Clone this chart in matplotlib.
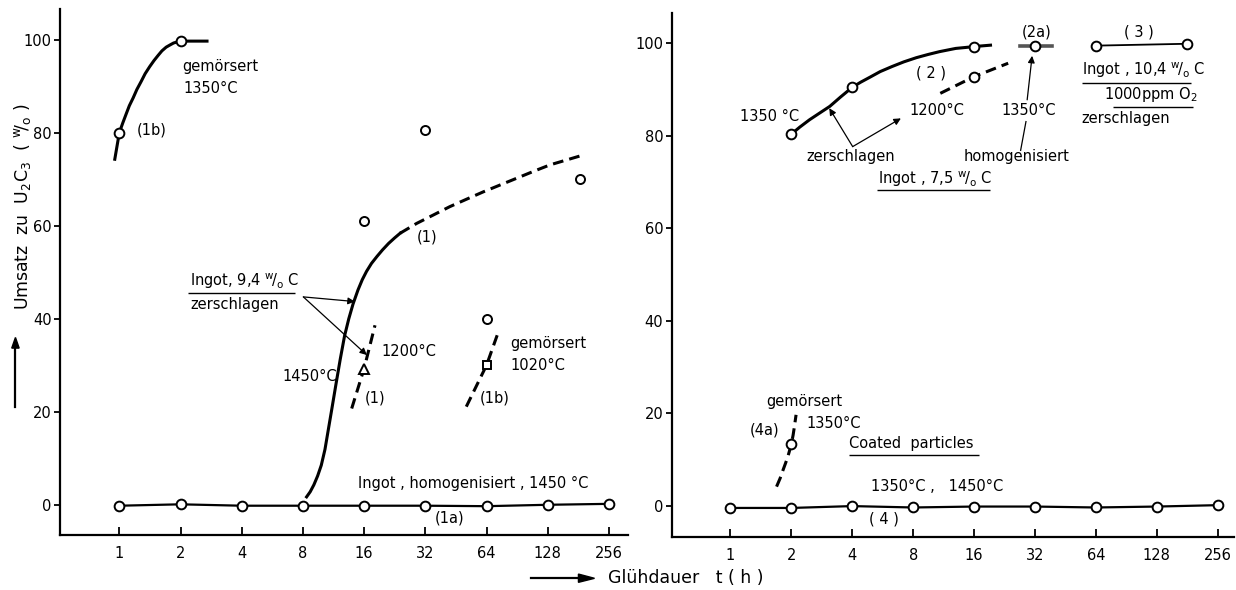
import matplotlib.pyplot as plt

plt.rcParams['font.family'] = ['DejaVu Sans']
plt.rcParams['mathtext.default'] = 'regular'

hours = [1, 2, 4, 8, 16, 32, 64, 128, 256]

# Ingot, homogenisiert, 1450 C (1a) and coated particles (4)
ingot_1a = [-0.2, 0.1, -0.2, -0.2, -0.2, -0.2, -0.3, 0.0, 0.2]
coated_4 = [-0.4, -0.4, 0.0, -0.3, -0.1, -0.1, -0.3, -0.1, 0.2]

# (1b) gemoersert 1350 C
mortar_1b_t = [0.95, 1.0, 1.04, 1.08, 1.12, 1.17, 1.22, 1.28, 1.34, 1.41, 1.48, 1.55,
               1.62, 1.7, 1.78, 1.85, 1.92, 2.0, 2.7]
mortar_1b_u = [74.3, 80, 82.1, 84, 85.8, 87.5, 89.3, 91, 92.7, 94.2, 95.5, 96.6,
               97.6, 98.4, 98.9, 99.3, 99.5, 99.7, 99.7]
mortar_1b_pts_t = [1, 2]
mortar_1b_pts_u = [80, 99.7]

# (1) zerschlagen 1450 C, solid part then dashed part
broken_1450_t = [8.34, 8.69, 9.06, 9.45, 9.85, 10.27, 10.70, 11.08, 11.63, 12.21, 12.82,
                 13.45, 14.12, 14.93, 15.67, 16.45, 17.39, 18.51, 19.70, 21.11, 22.63, 24.08]
broken_1450_u = [1.7, 2.8, 4.3, 6.2, 8.5, 11.9, 16.5, 20.4, 25.9, 31.3, 36.3,
                 40.0, 43.2, 46.2, 48.4, 50.2, 51.9, 53.4, 54.8, 56.2, 57.4, 58.4]
broken_1450_dash_t = [24.08, 29, 35, 42.2, 51, 61.8, 75, 89.9, 109, 131.6, 160, 191]
broken_1450_dash_u = [58.4, 60.5, 62.3, 64.1, 65.7, 67.3, 68.8, 70.2, 71.7, 73.1, 74.2, 75.2]
scatter_1_t = [16, 32, 64, 185]
scatter_1_u = [61, 80.5, 40, 70]

# (1) zerschlagen 1200 C
broken_1200_t = [13.9, 16, 18.1]
broken_1200_u = [20.7, 29.3, 38.6]

# (1b) gemoersert 1020 C
mortar_1020_t = [50.9, 64, 73.5]
mortar_1020_u = [21.1, 30.0, 37.4]

# right panel: (2) Ingot 7,5 w/o C
ingot_2_t = [2, 2.2, 2.46, 2.75, 3.1, 3.5, 4, 4.4, 4.9, 5.5, 6.3, 7.2, 8.3, 9.5,
             10.8, 12, 13, 14.5, 16, 19.3]
ingot_2_u = [80.3, 81.8, 83.4, 84.8, 86.3, 88.3, 90.4, 91.5, 92.6, 93.8, 94.9, 95.9,
             96.8, 97.5, 98.1, 98.5, 98.8, 99.0, 99.2, 99.5]
ingot_2_pts_t = [2, 4, 16]
ingot_2_pts_u = [80.3, 90.4, 99.2]
ingot_2_1200_t = [10.9, 16, 23.6]
ingot_2_1200_u = [89.1, 92.7, 95.6]

# (2a) homogenisiert 1350 C
homog_2a_t = [27.1, 32, 38.8]
homog_2a_u = [99.4, 99.4, 99.4]

# (3) Ingot 10,4 w/o C, 1000 ppm O2
ingot_3_t = [64, 180]
ingot_3_u = [99.4, 99.8]

# (4a) gemoersert 1350 C
mortar_4a_t = [1.69, 1.76, 1.82, 1.87, 1.92, 1.96, 2.0, 2.04, 2.07, 2.11]
mortar_4a_u = [4.2, 6.0, 7.8, 9.2, 10.6, 12.0, 13.4, 15.3, 17.1, 19.7]

DASH = (3.5, 2.0)
FS = 10.5


def circles(ax, t, u, marker='o', ms=7):
    ax.plot(t, u, marker, ls='none', mfc='white', mec='black', ms=ms, mew=1.4, zorder=5)


def underline(ax, x0, x1, y):
    ax.plot([x0, x1], [y, y], color='black', lw=1.0, solid_capstyle='butt')


def arrow(ax, tail, head):
    ax.annotate('', xy=head, xytext=tail,
                arrowprops=dict(arrowstyle='-|>', lw=0.9, color='black',
                                mutation_scale=10, shrinkA=0, shrinkB=0))


def setup(ax, xlim, ylim):
    ax.set_xscale('log', base=2)
    ax.set_xlim(*xlim)
    ax.set_ylim(*ylim)
    ax.set_xticks(hours)
    ax.set_xticklabels([str(h) for h in hours])
    ax.minorticks_off()
    ax.set_yticks([0, 20, 40, 60, 80, 100])
    ax.spines['top'].set_visible(False)
    ax.spines['right'].set_visible(False)
    ax.spines['left'].set_linewidth(1.6)
    ax.spines['bottom'].set_linewidth(1.6)
    ax.tick_params(axis='x', direction='in', length=6, width=1.3, labelsize=FS, pad=8)
    ax.tick_params(axis='y', direction='out', length=4, width=1.3, labelsize=FS, pad=2)


fig = plt.figure(figsize=(12.36, 5.9), dpi=100)
ax1 = fig.add_axes([0.0485, 0.0932, 0.4595, 0.8915])
ax2 = fig.add_axes([0.5434, 0.0904, 0.455, 0.888])
setup(ax1, (2 ** -0.97, 2 ** 8.31), (-6.5, 106.6))
setup(ax2, (2 ** -0.966, 2 ** 8.27), (-6.6, 106.5))

# ---- left panel ----
ax1.plot(hours, ingot_1a, color='black', lw=1.6)
circles(ax1, hours, ingot_1a)

ax1.plot(mortar_1b_t, mortar_1b_u, color='black', lw=2.2)
circles(ax1, mortar_1b_pts_t, mortar_1b_pts_u)

ax1.plot(broken_1450_t, broken_1450_u, color='black', lw=2.2)
ax1.plot(broken_1450_dash_t, broken_1450_dash_u, color='black', lw=2.2, dashes=DASH)
circles(ax1, scatter_1_t, scatter_1_u, ms=6.5)

ax1.plot(broken_1200_t, broken_1200_u, color='black', lw=2.2, dashes=DASH)
circles(ax1, broken_1200_t[1:2], broken_1200_u[1:2], marker='^', ms=6.5)

ax1.plot(mortar_1020_t, mortar_1020_u, color='black', lw=2.2, dashes=DASH)
circles(ax1, mortar_1020_t[1:2], mortar_1020_u[1:2], marker='s', ms=6)

ax1.text(2.03, 94.2, 'gemörsert', fontsize=FS, va='center')
ax1.text(2.06, 89.6, '1350°C', fontsize=FS, va='center')
ax1.text(1.22, 80.6, '(1b)', fontsize=FS, va='center')

ax1.text(2.23, 48.0, 'Ingot, 9,4 $^w\\!/_o$ C', fontsize=FS, va='center')
underline(ax1, 2.17, 7.32, 45.5)
ax1.text(2.23, 43.0, 'zerschlagen', fontsize=FS, va='center')
arrow(ax1, (8.04, 44.7), (14.4, 43.7))
arrow(ax1, (8.04, 44.7), (16.5, 32.2))

ax1.text(11.8, 27.5, '1450°C', fontsize=FS, va='center', ha='right')
ax1.text(19.5, 32.9, '1200°C', fontsize=FS, va='center')
ax1.text(16.2, 22.9, '(1)', fontsize=FS, va='center')
ax1.text(29, 57.6, '(1)', fontsize=FS, va='center')
ax1.text(83.5, 34.7, 'gemörsert', fontsize=FS, va='center')
ax1.text(83.5, 30.0, '1020°C', fontsize=FS, va='center')
ax1.text(59.4, 22.9, '(1b)', fontsize=FS, va='center')
ax1.text(15.0, 4.6, 'Ingot , homogenisiert , 1450 °C', fontsize=FS, va='center')
ax1.text(35.7, -2.9, '(1a)', fontsize=FS, va='center')

# ---- right panel ----
ax2.plot(hours, coated_4, color='black', lw=1.6)
circles(ax2, hours, coated_4)

ax2.plot(ingot_2_t, ingot_2_u, color='black', lw=2.2)
circles(ax2, ingot_2_pts_t, ingot_2_pts_u)
ax2.plot(ingot_2_1200_t, ingot_2_1200_u, color='black', lw=2.2, dashes=DASH)
circles(ax2, ingot_2_1200_t[1:2], ingot_2_1200_u[1:2])

ax2.plot(homog_2a_t, homog_2a_u, color='#555555', lw=2.6)
circles(ax2, homog_2a_t[1:2], homog_2a_u[1:2])

ax2.plot(ingot_3_t, ingot_3_u, color='black', lw=1.3)
circles(ax2, ingot_3_t, ingot_3_u)

ax2.plot(mortar_4a_t, mortar_4a_u, color='black', lw=2.2, dashes=DASH)
circles(ax2, mortar_4a_t[6:7], mortar_4a_u[6:7])

ax2.text(1.11, 84.1, '1350 °C', fontsize=FS, va='center')
ax2.text(2.37, 75.4, 'zerschlagen', fontsize=FS, va='center')
arrow(ax2, (4.02, 77.6), (3.08, 85.9))
arrow(ax2, (4.02, 77.6), (6.96, 83.7))
ax2.text(5.34, 70.6, 'Ingot , 7,5 $^w\\!/_o$ C', fontsize=FS, va='center')
underline(ax2, 5.33, 19.3, 68.2)
ax2.text(8.25, 93.5, '( 2 )', fontsize=FS, va='center')
ax2.text(7.64, 85.5, '1200°C', fontsize=FS, va='center')

ax2.text(29.8, 85.5, '1350°C', fontsize=FS, va='center', ha='center')
ax2.text(26, 75.4, 'homogenisiert', fontsize=FS, va='center', ha='center')
ax2.plot([27.2, 28.9], [76.8, 83.0], color='black', lw=0.9)
arrow(ax2, (29.3, 87.7), (31, 97.2))
ax2.text(32.7, 102.4, '(2a)', fontsize=FS, va='center', ha='center')
ax2.text(104, 102.4, '( 3 )', fontsize=FS, va='center', ha='center')

ax2.text(54.6, 94.2, 'Ingot , 10,4 $^w\\!/_o$ C', fontsize=FS, va='center')
underline(ax2, 54.6, 189.5, 91.4)
ax2.text(205, 88.8, '1000ppm O$_2$', fontsize=FS, va='center', ha='right')
underline(ax2, 78.2, 194, 86.2)
ax2.text(54.6, 83.7, 'zerschlagen', fontsize=FS, va='center')

ax2.text(2.32, 22.5, 'gemörsert', fontsize=FS, va='center', ha='center')
ax2.text(2.37, 17.9, '1350°C', fontsize=FS, va='center')
ax2.text(1.245, 16.4, '(4a)', fontsize=FS, va='center')
ax2.text(3.87, 13.5, 'Coated  particles', fontsize=FS, va='center')
underline(ax2, 3.87, 16.9, 11.0)
ax2.text(4.95, 4.2, '1350°C ,   1450°C', fontsize=FS, va='center')
ax2.text(4.86, -2.7, '( 4 )', fontsize=FS, va='center')

# axis titles with their arrows
fig.text(0.0178, 0.649, 'Umsatz  zu  U$_2$C$_3$  ( $^w\\!/_o$ )', rotation=90,
         fontsize=12.5, ha='center', va='center')
fig.add_artist(plt.Line2D([0.0125, 0.0125], [0.311, 0.41], color='black', lw=1.6))
fig.patches.append(plt.Polygon([[0.0095, 0.41], [0.0155, 0.41], [0.0125, 0.428]],
                               closed=True, color='black', transform=fig.transFigure))
fig.add_artist(plt.Line2D([0.430, 0.470], [0.0198, 0.0198], color='black', lw=1.6))
fig.patches.append(plt.Polygon([[0.468, 0.013], [0.468, 0.027], [0.481, 0.0198]],
                               closed=True, color='black', transform=fig.transFigure))
fig.text(0.492, 0.0198, 'Glühdauer   t ( h )', fontsize=12.5, ha='left', va='center')

fig.savefig('out.png', dpi=100)
